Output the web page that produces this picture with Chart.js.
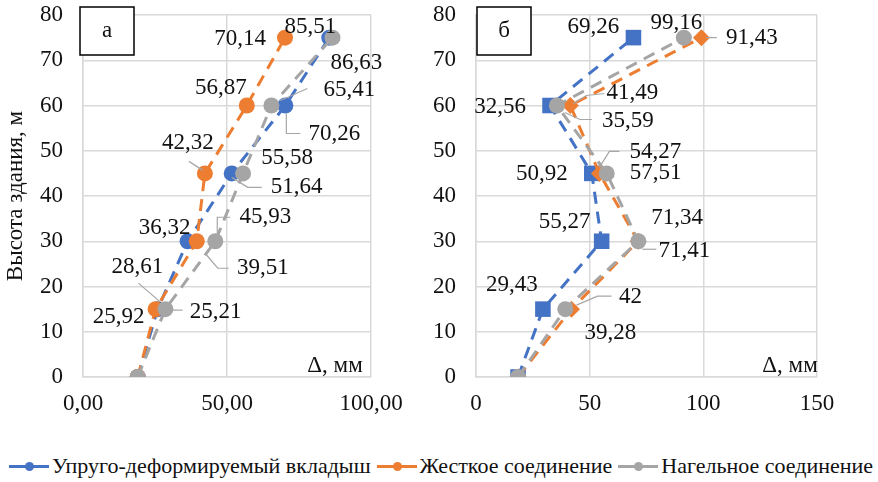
<!DOCTYPE html>
<html>
<head>
<meta charset="utf-8">
<script src="https://cdn.jsdelivr.net/npm/chart.js"></script>
<style>
  body { margin: 0; width: 878px; height: 482px; background: #fff; position: relative; overflow: hidden; font-family: "Liberation Serif", serif; }
  .wrap { position: absolute; top: 0; height: 430px; }
  #legend { position: absolute; left: 2px; top: 453px; width: 878px; display: flex; justify-content: center; align-items: center; font-size: 22px; color: #111; white-space: nowrap; }
  .item { display: flex; align-items: center; margin: 0 3px; }
  .mark { position: relative; width: 40px; height: 3px; margin-right: 3px; }
  .mark i { position: absolute; left: 16px; top: -3px; width: 9px; height: 9px; border-radius: 50%; background: inherit; }
</style>
</head>
<body>
<div class="wrap" style="left:0;width:420px"><canvas id="chartA"></canvas></div>
<div class="wrap" style="left:420px;width:458px"><canvas id="chartB"></canvas></div>
<div id="legend"></div>
<script>
const heights = [0, 15, 30, 45, 60, 75];
const seriesNames = ['Упруго-деформируемый вкладыш', 'Жесткое соединение', 'Нагельное соединение'];
const seriesColors = ['#4472C4', '#ED7D31', '#A5A5A5'];

// panel "а"
const aBlue = [19, 25.92, 36.32, 51.64, 70.26, 85.51];
const aOrange = [19, 25.21, 39.51, 42.32, 56.87, 70.14];
const aGrey = [19, 28.61, 45.93, 55.58, 65.41, 86.63];
// panel "б"
const bBlue = [18.5, 29.43, 55.27, 50.92, 32.56, 69.26];
const bOrange = [18.5, 42, 71.34, 54.27, 41.49, 99.16];
const bGrey = [18.5, 39.28, 71.41, 57.51, 35.59, 91.43];

const yTicks = [0, 10, 20, 30, 40, 50, 60, 70, 80];
const aXTicks = [0, 50, 100];
const bXTicks = [0, 50, 100, 150];

// where each value label sits relative to its point, and its leader line
const aLabelPos = [
  [null, [-39, 8], [-23, -13], [65, 14], [49, 28], [-19, -11]],
  [null, [60, 3], [66, 27], [-17, -30], [-26, -18], [-45, 1]],
  [null, [-28, -42], [50, -24], [44, -15], [78, -16], [24, 25]]
];
const aLeaders = [
  [null, null, null, [[0, 4], [16, 14], [30, 14]], [[1, 8], [1, 28], [15, 28]], null],
  [null, [[17, 1], [27, 1]], [[10, 14], [21, 27], [32, 27]], [[-16, -12], [-2, -3]], null, null],
  [null, [[-27, -26], [-5, -7]], [[2, -8], [2, -24], [15, -24]], null, [[36, -17], [9, -5]], null]
];
const bLabelPos = [
  [null, [-31, -24], [-37, -19], [-50, 1], [-50, 1], [-40, -11]],
  [null, [59, -12], [39, -23], [56, -21], [62, -13], [-25, -15]],
  [null, [45, 24], [46, 10], [49, 0], [71, 15], [68, 0]]
];
const bLeaders = [
  [null, null, null, null, null, null],
  [null, [[5, -4], [26, -13], [40, -13]], null, [[0, -6], [10, -22], [20, -22]], [[3, -2], [16, -10], [34, -12]], null],
  [null, null, [[4, 8], [18, 8]], null, [[8, 7], [23, 14], [35, 14]], [[22, 0], [33, 0]]]
];

const FONT = '"Liberation Serif", "Times New Roman", serif';
const FS = 23;

const pointLabels = {
  id: 'pointLabels',
  afterDatasetsDraw(chart, args, opts) {
    const ctx = chart.ctx;
    ctx.save();
    ctx.font = FS + 'px ' + FONT;
    ctx.textAlign = 'center';
    ctx.textBaseline = 'middle';
    chart.data.datasets.forEach((ds, i) => {
      const meta = chart.getDatasetMeta(i);
      meta.data.forEach((pt, j) => {
        const off = opts.pos[i][j];
        if (!off) return;
        const lead = opts.leaders[i][j];
        if (lead) {
          ctx.strokeStyle = '#a6a6a6';
          ctx.lineWidth = 1.2;
          ctx.beginPath();
          lead.forEach((p, k) => {
            if (k === 0) ctx.moveTo(pt.x + p[0], pt.y + p[1]);
            else ctx.lineTo(pt.x + p[0], pt.y + p[1]);
          });
          ctx.stroke();
        }
        ctx.fillStyle = '#111';
        ctx.fillText(String(ds.data[j].x).replace('.', ','), pt.x + off[0], pt.y + off[1]);
      });
    });
    ctx.restore();
  }
};

const panelText = {
  id: 'panelText',
  afterDraw(chart, args, opts) {
    const ctx = chart.ctx;
    ctx.save();
    const b = opts.box;
    ctx.fillStyle = '#fff';
    ctx.fillRect(b[0], b[1], b[2], b[3]);
    ctx.strokeStyle = '#000';
    ctx.lineWidth = 1.5;
    ctx.strokeRect(b[0], b[1], b[2], b[3]);
    ctx.fillStyle = '#111';
    ctx.font = FS + 'px ' + FONT;
    ctx.textAlign = 'center';
    ctx.textBaseline = 'middle';
    ctx.fillText(opts.letter, b[0] + b[2] / 2, b[1] + b[3] / 2);
    ctx.fillText('Δ, мм', opts.delta[0], opts.delta[1]);
    ctx.restore();
  }
};

function makeDatasets(values, styles, radii) {
  return values.map((vals, i) => ({
    label: seriesNames[i],
    data: vals.map((v, k) => ({ x: v, y: heights[k] })),
    showLine: true,
    borderColor: seriesColors[i],
    backgroundColor: seriesColors[i],
    borderWidth: 3,
    borderDash: [12, 8],
    pointStyle: styles[i],
    pointRadius: radii[i],
    pointBorderWidth: 0,
    order: 2 - i
  }));
}

function makeChart(id, datasets, xTicks, xFmt, cfg) {
  const xMax = xTicks[xTicks.length - 1];
  return new Chart(document.getElementById(id), {
    type: 'scatter',
    data: { datasets },
    options: {
      responsive: true,
      maintainAspectRatio: false,
      animation: false,
      layout: { padding: { top: 15, right: cfg.padRight, bottom: 0, left: 0 } },
      plugins: {
        legend: { display: false },
        tooltip: { enabled: false },
        pointLabels: { pos: cfg.labelPos, leaders: cfg.leaders },
        panelText: { box: cfg.box, letter: cfg.letter, delta: cfg.delta }
      },
      scales: {
        x: {
          type: 'linear',
          min: 0,
          max: xMax,
          afterBuildTicks: s => { s.ticks = xTicks.map(v => ({ value: v })); },
          afterFit: s => { s.height = 53; },
          grid: { color: '#d9d9d9', lineWidth: 1.5, drawTicks: false },
          border: { color: '#d9d9d9', width: 1.5 },
          ticks: { color: '#111', font: { family: FONT, size: FS }, padding: 13, maxRotation: 0, callback: xFmt }
        },
        y: {
          min: 0,
          max: 80,
          afterBuildTicks: s => { s.ticks = yTicks.map(v => ({ value: v })); },
          afterFit: s => { s.width = cfg.yWidth; s.paddingTop = 12; s.paddingBottom = 12; },
          grid: { color: '#d9d9d9', lineWidth: 1.5, drawTicks: false },
          border: { color: '#d9d9d9', width: 1.5 },
          ticks: { color: '#111', font: { family: FONT, size: FS }, padding: 20 },
          title: {
            display: cfg.yTitle,
            text: 'Высота здания, м',
            color: '#111',
            font: { family: FONT, size: FS },
            padding: { top: 2, bottom: 0 }
          }
        }
      }
    },
    plugins: [pointLabels, panelText]
  });
}

makeChart('chartA',
  makeDatasets([aBlue, aOrange, aGrey], ['circle', 'circle', 'circle'], [8, 8, 8]),
  aXTicks, v => v.toFixed(2).replace('.', ','),
  { padRight: 49, yWidth: 83, yTitle: true, labelPos: aLabelPos, leaders: aLeaders,
    box: [80, 7, 54, 48], letter: 'а', delta: [335, 366] });

makeChart('chartB',
  makeDatasets([bBlue, bOrange, bGrey], ['rect', 'rectRot', 'circle'], [11, 8.5, 8]),
  bXTicks, v => String(v),
  { padRight: 61, yWidth: 56, yTitle: false, labelPos: bLabelPos, leaders: bLeaders,
    box: [57, 7, 54, 48], letter: 'б', delta: [370, 366] });

const legend = document.getElementById('legend');
seriesNames.forEach((name, i) => {
  const item = document.createElement('span');
  item.className = 'item';
  const mark = document.createElement('span');
  mark.className = 'mark';
  mark.style.background = seriesColors[i];
  mark.appendChild(document.createElement('i'));
  const txt = document.createElement('span');
  txt.textContent = name;
  item.appendChild(mark);
  item.appendChild(txt);
  legend.appendChild(item);
});
</script>
</body>
</html>
